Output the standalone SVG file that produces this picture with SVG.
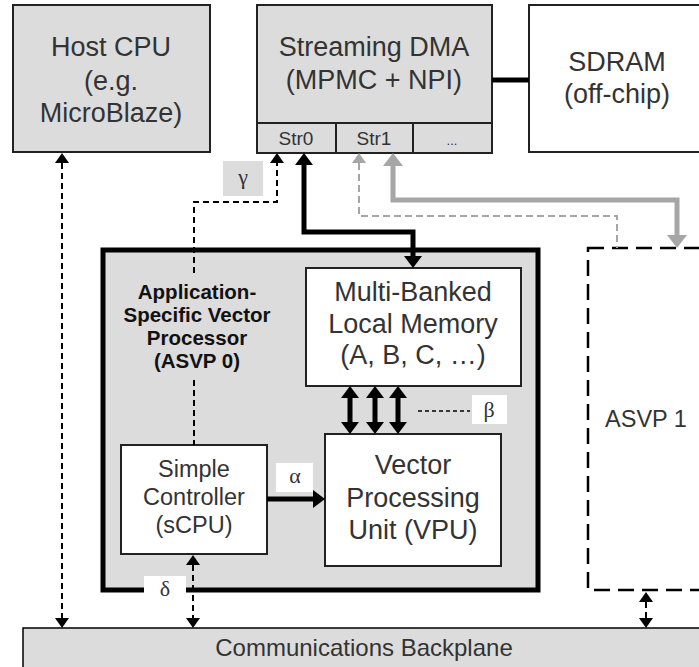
<svg xmlns="http://www.w3.org/2000/svg" width="699" height="667" viewBox="0 0 699 667">
<style>
.box{stroke:#222;stroke-width:2}
.gray{fill:#dcdcdc}
.white{fill:#fff}
.t{font-family:"Liberation Sans",Arial,sans-serif;fill:#333;text-anchor:middle}
.big{font-size:27px}
.mid{font-size:23.5px}
.sm{font-size:19px}
.bold{font-weight:bold;font-size:20.5px;fill:#111}
.gr{font-family:"Liberation Serif","Times New Roman",serif;font-size:22px;fill:#333;text-anchor:middle}
.dash{fill:none;stroke:#000;stroke-width:2;stroke-dasharray:6 4}
.thick{fill:none;stroke:#000;stroke-width:5}
.gthick{fill:none;stroke:#a6a6a6;stroke-width:5}
.gdash{fill:none;stroke:#a6a6a6;stroke-width:2;stroke-dasharray:7 4}
</style>
<defs>
<marker id="a" markerUnits="userSpaceOnUse" markerWidth="12" markerHeight="16" viewBox="0 -8 12 16" refX="0" refY="0" orient="auto-start-reverse"><path d="M0,-7 L10,0 L0,7 z" fill="#000"/></marker>
<marker id="A" markerUnits="userSpaceOnUse" markerWidth="14" markerHeight="20" viewBox="0 -10 14 20" refX="0" refY="0" orient="auto-start-reverse"><path d="M0,-9 L12,0 L0,9 z" fill="#000"/></marker>
<marker id="g" markerUnits="userSpaceOnUse" markerWidth="12" markerHeight="16" viewBox="0 -8 12 16" refX="0" refY="0" orient="auto-start-reverse"><path d="M0,-7 L10,0 L0,7 z" fill="#a6a6a6"/></marker>
<marker id="G" markerUnits="userSpaceOnUse" markerWidth="15" markerHeight="22" viewBox="0 -11 15 22" refX="0" refY="0" orient="auto-start-reverse"><path d="M0,-10 L13,0 L0,10 z" fill="#a6a6a6"/></marker>
</defs>
<rect width="699" height="667" fill="#fff"/>

<g id="host-cpu">
<rect class="box gray" x="13" y="5" width="197" height="147"/>
<text class="t big" x="111" y="56">Host CPU</text>
<text class="t big" x="111" y="90">(e.g.</text>
<text class="t big" x="111" y="122">MicroBlaze)</text>
</g>

<g id="streaming-dma">
<rect class="box gray" x="257" y="5" width="235" height="148"/>
<line x1="257" y1="123" x2="492" y2="123" stroke="#222" stroke-width="2"/>
<line x1="336" y1="123" x2="336" y2="153" stroke="#222" stroke-width="2"/>
<line x1="413" y1="123" x2="413" y2="153" stroke="#222" stroke-width="2"/>
<text class="t big" x="374" y="56">Streaming DMA</text>
<text class="t big" x="374" y="89">(MPMC + NPI)</text>
<text class="t sm" x="296" y="145">Str0</text>
<text class="t sm" x="374" y="145">Str1</text>
<text class="t" style="font-size:13px" x="452" y="145">...</text>
</g>

<g id="sdram">
<rect class="box white" x="529" y="5" width="200" height="147"/>
<text class="t big" x="617" y="71">SDRAM</text>
<text class="t big" x="617" y="103">(off-chip)</text>
</g>

<g id="asvp0">
<rect x="103" y="250" width="435" height="340" fill="#dcdcdc" stroke="#000" stroke-width="5"/>
<rect x="144" y="576" width="42" height="25" fill="#fff"/>
<text class="gr" x="165" y="596">δ</text>
<text class="t bold" x="197" y="299">Application-</text>
<text class="t bold" x="197" y="322">Specific Vector</text>
<text class="t bold" x="197" y="345">Processor</text>
<text class="t bold" x="197" y="368">(ASVP 0)</text>
</g>

<g id="local-memory">
<rect class="box white" x="306" y="268" width="215" height="118"/>
<text class="t big" x="413" y="301">Multi-Banked</text>
<text class="t big" x="413" y="333">Local Memory</text>
<text class="t big" x="413" y="364">(A, B, C, …)</text>
</g>

<g id="vpu">
<rect class="box white" x="325" y="434" width="176" height="132"/>
<text class="t big" x="413" y="474">Vector</text>
<text class="t big" x="413" y="507">Processing</text>
<text class="t big" x="413" y="539">Unit (VPU)</text>
</g>

<g id="scpu">
<rect class="box white" x="121" y="445" width="146" height="109"/>
<text class="t mid" x="194" y="477">Simple</text>
<text class="t mid" x="194" y="505">Controller</text>
<text class="t mid" x="194" y="533">(sCPU)</text>
</g>

<g id="asvp1">
<rect x="588" y="248" width="200" height="342" fill="none" stroke="#000" stroke-width="2.5" stroke-dasharray="16 8"/>
<text class="t mid" x="646" y="427">ASVP 1</text>
</g>

<g id="backplane">
<rect x="23" y="628" width="700" height="60" fill="#dcdcdc" stroke="#000" stroke-width="1.5"/>
<text class="t" style="font-size:24px" x="364" y="656">Communications Backplane</text>
</g>

<g id="connectors">
<line class="thick" x1="492" y1="80" x2="529" y2="80"/>
<path class="dash" d="M62,163 V618" marker-start="url(#a)" marker-end="url(#a)"/>
<path class="dash" d="M193,565 V618" marker-start="url(#a)" marker-end="url(#a)"/>
<path class="dash" d="M194,273 V202 H277 V163" marker-end="url(#a)"/>
<path class="dash" d="M194,380 V445"/>
<rect x="223" y="161" width="40" height="35" fill="#dcdcdc"/>
<text class="gr" x="243" y="184">γ</text>
<path class="thick" d="M304,165 V232 H413 V256" marker-start="url(#A)" marker-end="url(#A)"/>
<path class="gdash" d="M359,163 V216 H617 V248" marker-start="url(#g)"/>
<path class="gthick" d="M393,166 V200 H677 V235" marker-start="url(#G)" marker-end="url(#G)"/>
<path class="thick" d="M350,398 V422" marker-start="url(#A)" marker-end="url(#A)"/>
<path class="thick" d="M375,398 V422" marker-start="url(#A)" marker-end="url(#A)"/>
<path class="thick" d="M398,398 V422" marker-start="url(#A)" marker-end="url(#A)"/>
<line x1="418" y1="411" x2="470" y2="411" stroke="#000" stroke-width="1.5" stroke-dasharray="4 3"/>
<rect x="472" y="395" width="35" height="29" fill="#fff"/>
<text class="gr" x="489" y="417">β</text>
<path class="thick" d="M267,499 H313" marker-end="url(#A)"/>
<rect x="276" y="463" width="37" height="29" fill="#fff"/>
<text class="gr" x="295" y="483">α</text>
<path class="dash" d="M646,602 V618" marker-start="url(#a)" marker-end="url(#a)"/>
</g>
</svg>
